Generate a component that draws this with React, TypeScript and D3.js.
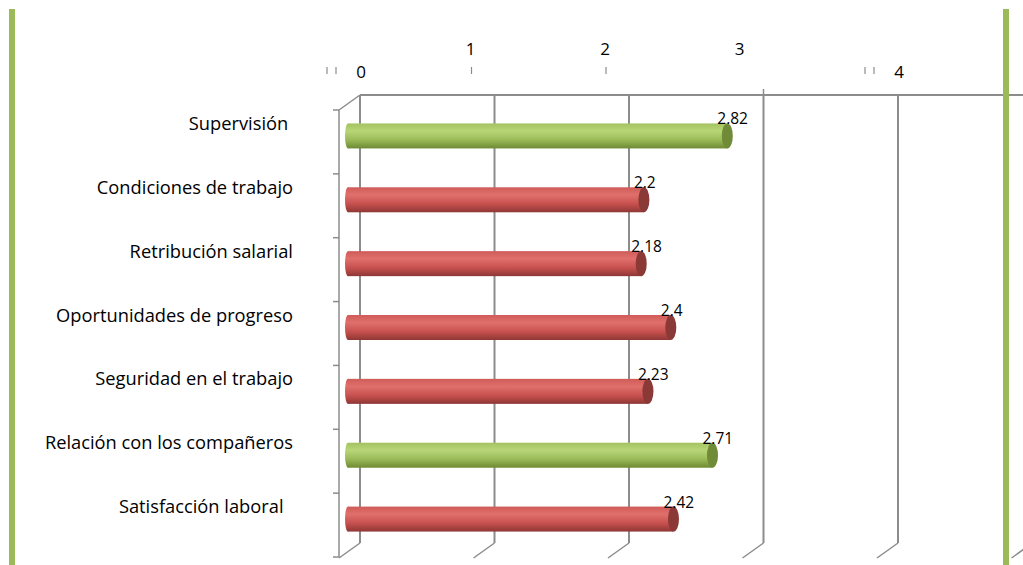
import React from "react";
import * as d3 from "d3";

const categories = [
  "Supervisión ",
  "Condiciones de trabajo",
  "Retribución salarial",
  "Oportunidades de progreso",
  "Seguridad en el trabajo",
  "Relación con los compañeros",
  "Satisfacción laboral  ",
];
const values = [2.82, 2.2, 2.18, 2.4, 2.23, 2.71, 2.42];
const barColorKeys = ["green", "red", "red", "red", "red", "green", "red"];
const tickValues = [0, 1, 2, 3, 4];
const gridValues = [0, 1, 2, 3, 4, 5];

const W = 1023;
const H = 565;
const FONT = "'Open Sans', 'Noto Sans', sans-serif";

export default function App() {
  const xBack = d3.scaleLinear().domain([0, 1]).range([360, 494.5]);
  const xBar = d3.scaleLinear().domain([0, 1]).range([348, 482.5]);
  const y = d3.scaleBand<string>().domain(categories).range([110, 557]).padding(0);
  const depthX = -21;
  const depthY = 15;
  const wallTop = 95;
  const wallBottom = 543;
  const barH = 25;
  const gridColor = "#8c8c8c";

  const bounds = d3.range(categories.length + 1).map((i) => 110 + i * y.step());

  return (
    <svg
      width={W}
      height={H}
      style={{ position: "absolute", left: 0, top: 0, background: "#fff" }}
      fontFamily={FONT}
    >
      <defs>
        <linearGradient id="g-green" x1="0" y1="0" x2="0" y2="1">
          <stop offset="0" stopColor="#a3c35f" />
          <stop offset="0.3" stopColor="#b8d677" />
          <stop offset="0.65" stopColor="#9bbb59" />
          <stop offset="1" stopColor="#6e8a33" />
        </linearGradient>
        <linearGradient id="g-red" x1="0" y1="0" x2="0" y2="1">
          <stop offset="0" stopColor="#cf5b58" />
          <stop offset="0.3" stopColor="#e0706d" />
          <stop offset="0.65" stopColor="#c9524f" />
          <stop offset="1" stopColor="#8e3735" />
        </linearGradient>
      </defs>

      <rect x={9} y={9} width={6} height={H - 9} fill="#9bbb59" />

      <line x1={xBack(0)} x2={W} y1={wallTop} y2={wallTop} stroke={gridColor} strokeWidth={2} />
      {gridValues.map((v) => (
        <g key={"g" + v}>
          <line x1={xBack(v)} x2={xBack(v)} y1={wallTop} y2={wallBottom} stroke={gridColor} strokeWidth={2} />
          <line
            x1={xBack(v)}
            x2={xBack(v) + depthX}
            y1={wallBottom}
            y2={wallBottom + depthY}
            stroke={gridColor}
            strokeWidth={1.5}
          />
        </g>
      ))}
      <line x1={xBack(3)} x2={xBack(3)} y1={89} y2={wallTop} stroke={gridColor} strokeWidth={1.5} />

      <line x1={xBack(0)} y1={wallTop} x2={xBack(0) + depthX} y2={wallTop + depthY} stroke={gridColor} strokeWidth={1.5} />
      <line x1={339} x2={339} y1={110} y2={557} stroke={gridColor} strokeWidth={1.5} />
      {bounds.map((b, i) => (
        <line key={"t" + i} x1={333} x2={339} y1={b} y2={b} stroke={gridColor} strokeWidth={1.5} />
      ))}

      {tickValues.map((v, i) => {
        const isEnd = i === 0 || i === tickValues.length - 1;
        const lx = isEnd ? xBack(v) + 1 : xBack(v) - 24;
        const ly = isEnd ? 78 : 55;
        return (
          <g key={"tk" + v}>
            <text x={lx} y={ly} textAnchor="middle" fontSize={17} fill="#000">
              {v}
            </text>
            {isEnd ? (
              <>
                <line x1={lx - 34} x2={lx - 34} y1={67} y2={74} stroke={gridColor} strokeWidth={1.2} />
                <line x1={lx - 25} x2={lx - 25} y1={67} y2={74} stroke={gridColor} strokeWidth={1.2} />
              </>
            ) : v !== 3 ? (
              <line x1={lx + 1} x2={lx + 1} y1={67} y2={74} stroke={gridColor} strokeWidth={1.2} />
            ) : null}
          </g>
        );
      })}

      {categories.map((c, i) => {
        const cy = (y(c) as number) + y.bandwidth() / 2 - 6;
        const x0 = xBar(0);
        const x1 = xBar(values[i]);
        const fill = barColorKeys[i] === "green" ? "url(#g-green)" : "url(#g-red)";
        const cap = barColorKeys[i] === "green" ? "#6f8b37" : "#8b3936";
        return (
          <g key={"b" + i}>
            <ellipse cx={x0} cy={cy} rx={3} ry={barH / 2} fill={fill} />
            <rect x={x0} y={cy - barH / 2} width={x1 - x0} height={barH} fill={fill} />
            <ellipse cx={x1} cy={cy} rx={5.5} ry={barH / 2} fill={cap} />
            <text x={x1 - 10} y={cy - barH / 2 + 1} fontSize={15.5} fill="#000">
              {values[i]}
            </text>
          </g>
        );
      })}

      {categories.map((c) => {
        const cy = (y(c) as number) + y.bandwidth() / 2 - 18.5;
        return (
          <text
            key={"l" + c}
            x={293}
            y={cy + 6.5}
            textAnchor="end"
            fontSize={18.3}
            fill="#000"
            style={{ whiteSpace: "pre" }}
          >
            {c}
          </text>
        );
      })}

      <rect x={1003} y={9} width={6} height={H - 9} fill="#9bbb59" />
    </svg>
  );
}
